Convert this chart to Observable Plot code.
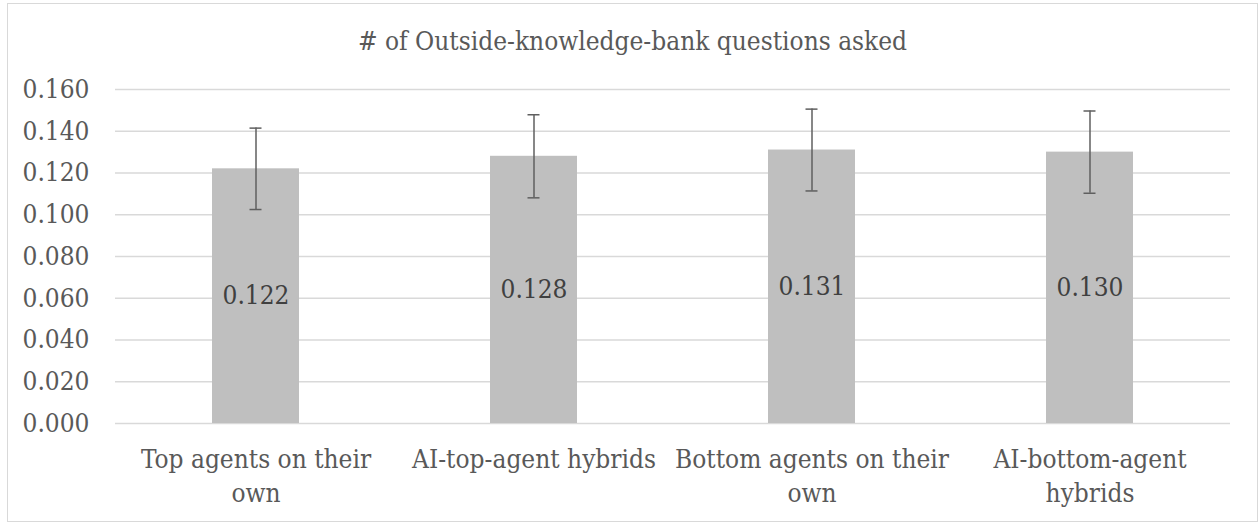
<!DOCTYPE html>
<html>
<head>
<meta charset="utf-8">
<script src="https://cdn.jsdelivr.net/npm/d3@7"></script>
<script src="https://cdn.jsdelivr.net/npm/@observablehq/plot@0.6"></script>
<style>
  html, body { margin: 0; padding: 0; background: #fff; }
  #wrap { position: relative; width: 1260px; height: 523px; overflow: hidden; }
  #border { position: absolute; left: 7px; top: 3px; width: 1249px; height: 517px; border: 1px solid #d9d9d9; pointer-events: none; }
  #title { box-sizing: border-box; height: 60px; padding-top: 28px; padding-left: 7px; width: 1258px; text-align: center;
           font-family: "DejaVu Serif Condensed", "DejaVu Serif", serif; font-size: 26px; line-height: 26px; color: #595959; white-space: nowrap; }
  #chart svg { display: block; }
</style>
</head>
<body>
<div id="wrap">
  <div id="title"></div>
  <div id="chart"></div>
  <div id="border"></div>
</div>
<script>
const titleText = "# of Outside-knowledge-bank questions asked";
const categories = ["Top agents on their\nown", "AI-top-agent hybrids", "Bottom agents on their\nown", "AI-bottom-agent\nhybrids"];
const values = [0.122, 0.128, 0.131, 0.130];
const errors = [0.0195, 0.0199, 0.0196, 0.0197];
const yTicks = [0, 0.02, 0.04, 0.06, 0.08, 0.10, 0.12, 0.14, 0.16];

document.getElementById("title").textContent = titleText;

const data = categories.map((c, i) => ({cat: c, value: values[i], err: errors[i]}));
const font = '"DejaVu Serif Condensed", "DejaVu Serif", serif';
const fs = 26;

const chart = Plot.plot({
  width: 1260,
  height: 463,
  marginTop: 29,
  marginBottom: 100,
  marginLeft: 115,
  marginRight: 30,
  style: {fontFamily: font, background: "transparent"},
  x: {domain: categories, paddingInner: 0.688, paddingOuter: 0.344, axis: null},
  y: {domain: [0, 0.16], axis: null},
  marks: [
    Plot.gridY(yTicks, {stroke: "#d9d9d9", strokeOpacity: 1, strokeWidth: 1.5}),
    Plot.barY(data, {x: "cat", y: "value", fill: "#bfbfbf"}),
    Plot.ruleX(data, {x: "cat", y1: d => d.value - d.err, y2: d => d.value + d.err, stroke: "#5f5f5f", strokeWidth: 1.5}),
    Plot.tickY(data, {x: "cat", y: d => d.value + d.err, stroke: "#5f5f5f", strokeWidth: 1.5, insetLeft: 37.5, insetRight: 37.5}),
    Plot.tickY(data, {x: "cat", y: d => d.value - d.err, stroke: "#5f5f5f", strokeWidth: 1.5, insetLeft: 37.5, insetRight: 37.5}),
    Plot.text(data, {x: "cat", y: d => d.value / 2, text: d => d3.format(".3f")(d.value), fontSize: fs, fill: "#404040", lineAnchor: "middle", fontFamily: font}),
    Plot.axisY(yTicks, {tickSize: 0, tickPadding: 26, fontSize: fs, fill: "#595959", tickFormat: d3.format(".3f"), label: null, fontFamily: font}),
    Plot.axisX({tickSize: 0, tickPadding: 21, fontSize: fs, lineHeight: 1.29, fill: "#595959", label: null, fontFamily: font})
  ]
});
document.getElementById("chart").appendChild(chart);
</script>
</body>
</html>
